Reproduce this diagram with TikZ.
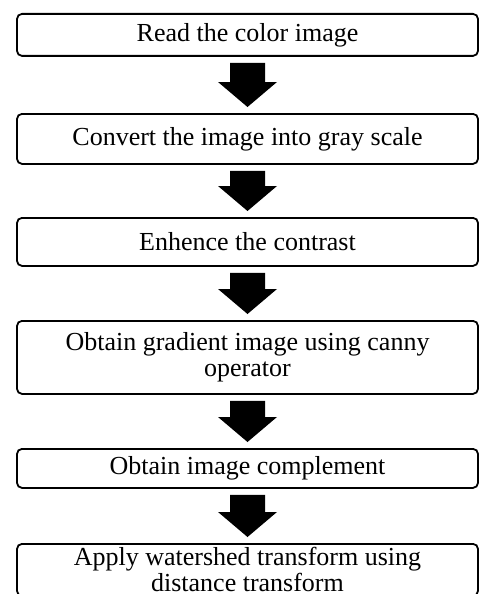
\documentclass[tikz,border=0pt]{standalone}
\usepackage{fontspec}
\setmainfont{Liberation Serif}
\usetikzlibrary{calc}
\begin{document}
\begin{tikzpicture}[x=1pt,y=-1pt,
  stepbox/.style={draw=black, line width=1.8pt, rounded corners=5pt, fill=white,
    minimum width=461pt, inner sep=0pt, anchor=north, align=center,
    font=\fontsize{26}{26}\selectfont},
  bigarrow/.style={fill=black, draw=none}]
\useasboundingbox (0,0) rectangle (480,594);
\node[stepbox, minimum height=42pt] (b1) at (247.5,13) {Read the color image};
\node[stepbox, minimum height=50pt] (b2) at (247.5,113) {Convert the image into gray scale};
\node[stepbox, minimum height=48pt] (b3) at (247.5,217) {Enhence the contrast};
\node[stepbox, minimum height=73pt] (b4) at (247.5,320) {Obtain gradient image using canny\\operator};
\node[stepbox, minimum height=39pt] (b5) at (247.5,448) {Obtain image complement};
\node[stepbox, minimum height=52pt] (b6) at (247.5,543) {Apply watershed transform using\\distance transform};
\foreach \a/\b in {b1/b2,b2/b3,b3/b4,b4/b5,b5/b6}{
  \fill[bigarrow] ($(\a.south)+(-17.5,6)$) -- ($(\b.north)+(-17.5,-31)$) -- ($(\b.north)+(-29.5,-31)$)
    -- ($(\b.north)+(0,-6)$) -- ($(\b.north)+(29.5,-31)$) -- ($(\b.north)+(17.5,-31)$)
    -- ($(\a.south)+(17.5,6)$) -- cycle;
}
\end{tikzpicture}
\end{document}
